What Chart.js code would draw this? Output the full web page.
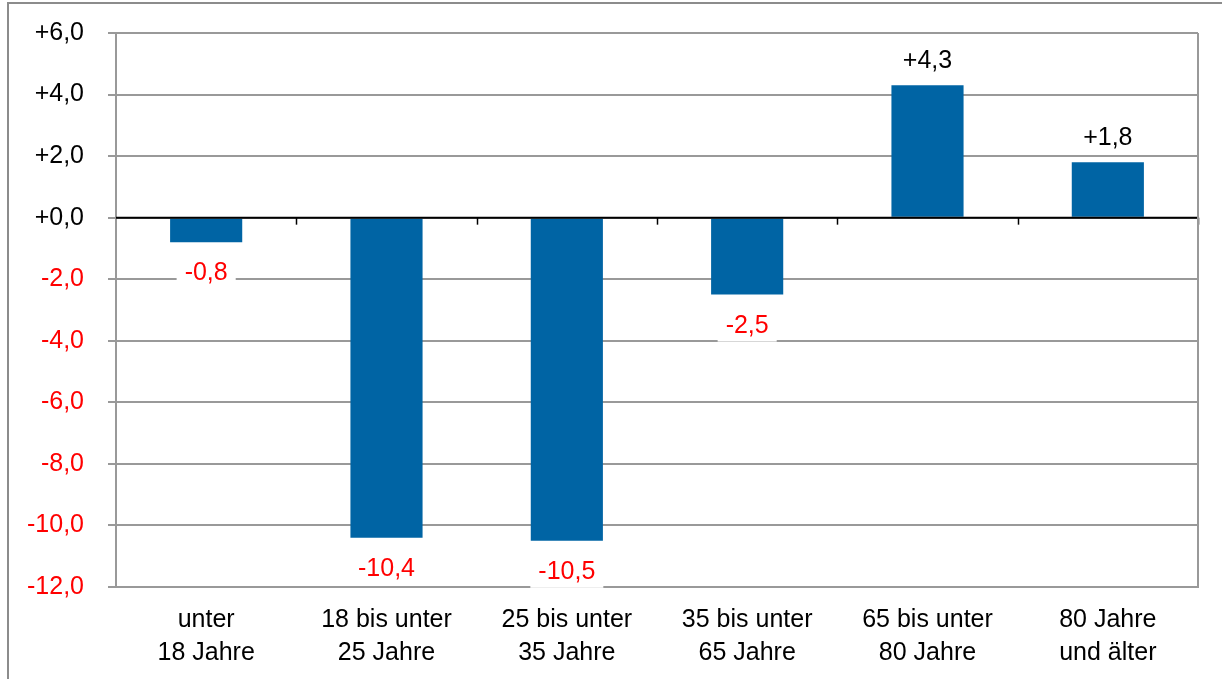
<!DOCTYPE html>
<html>
<head>
<meta charset="utf-8">
<script src="https://cdn.jsdelivr.net/npm/chart.js@4.4.1/dist/chart.umd.min.js"></script>
<style>
  html, body { margin: 0; padding: 0; background: #fff; }
  #wrap { position: relative; width: 1222px; height: 679px; overflow: hidden; }
  #frame { position: absolute; left: 7px; top: 2px; width: 1300px; height: 700px;
           border: 2px solid #8c8c8c; pointer-events: none; }
</style>
</head>
<body>
<div id="wrap">
  <canvas id="myChart" width="1222" height="679"></canvas>
  <div id="frame"></div>
</div>
<script>
// Altersgruppen
var categories = [
  ['unter', '18 Jahre'],
  ['18 bis unter', '25 Jahre'],
  ['25 bis unter', '35 Jahre'],
  ['35 bis unter', '65 Jahre'],
  ['65 bis unter', '80 Jahre'],
  ['80 Jahre', 'und älter']
];
// Veränderung in Prozent
var values = [-0.8, -10.4, -10.5, -2.5, 4.3, 1.8];
var yMin = -12, yMax = 6, yStep = 2;

var FONT = '"Liberation Sans", Arial, sans-serif';

function fmt(v) {
  var s = Math.abs(v).toFixed(1).replace('.', ',');
  return (v < 0 ? '-' : '+') + s;
}

// value labels with white box, plus zero line ticks and right border
var extras = {
  id: 'extras',
  afterDatasetsDraw: function (chart) {
    var ctx = chart.ctx;
    var area = chart.chartArea;
    var y = chart.scales.y;
    var y0 = y.getPixelForValue(0);

    ctx.save();
    // zero line
    ctx.strokeStyle = '#000';
    ctx.lineWidth = 2;
    ctx.beginPath();
    ctx.moveTo(area.left, y0);
    ctx.lineTo(area.right, y0);
    ctx.stroke();
    // small ticks under zero line at category borders
    ctx.lineWidth = 1.5;
    for (var i = 1; i <= categories.length; i++) {
      var bx = Math.round(area.left + (area.right - area.left) * i / categories.length) + 0.5;
      ctx.beginPath();
      ctx.moveTo(bx, y0);
      ctx.lineTo(bx, y0 + 7);
      ctx.stroke();
    }
    // right border of plot
    ctx.strokeStyle = '#999';
    ctx.lineWidth = 2;
    ctx.beginPath();
    ctx.moveTo(area.right, area.top);
    ctx.lineTo(area.right, area.bottom);
    ctx.stroke();

    // data labels
    ctx.font = '25px ' + FONT;
    ctx.textAlign = 'center';
    ctx.textBaseline = 'middle';
    var meta = chart.getDatasetMeta(0);
    meta.data.forEach(function (bar, i) {
      var v = values[i];
      var text = fmt(v);
      var cy = v < 0 ? bar.y + 30 : bar.y - 25;
      var w = ctx.measureText(text).width + 16;
      ctx.fillStyle = '#fff';
      ctx.fillRect(bar.x - w / 2, cy - 17, w, 34);
      ctx.fillStyle = v < 0 ? '#ff0000' : '#000';
      ctx.fillText(text, bar.x, cy + 1);
    });
    ctx.restore();
  }
};

var ctx = document.getElementById('myChart').getContext('2d');
var myChart = new Chart(ctx, {
  type: 'bar',
  data: {
    labels: categories,
    datasets: [{
      data: values,
      backgroundColor: '#0064a4',
      borderWidth: 0,
      barPercentage: 0.4,
      categoryPercentage: 1.0
    }]
  },
  options: {
    responsive: false,
    animation: false,
    layout: { padding: { top: 33, right: 24, left: 0, bottom: 0 } },
    plugins: { legend: { display: false }, tooltip: { enabled: false } },
    scales: {
      x: {
        grid: { display: false, drawTicks: false },
        border: { display: true, color: '#999', width: 2 },
        ticks: {
          color: '#000',
          font: { family: FONT, size: 25, lineHeight: 1.3 },
          padding: 17,
          maxRotation: 0
        },
        afterFit: function (scale) { scale.height = 92; }
      },
      y: {
        min: yMin,
        max: yMax,
        grid: {
          color: '#999',
          lineWidth: 2,
          tickLength: 8,
          drawTicks: true
        },
        border: { display: true, color: '#999', width: 2 },
        ticks: {
          stepSize: yStep,
          padding: 24,
          font: { family: FONT, size: 25 },
          color: function (c) { return c.tick.value < 0 ? '#ff0000' : '#000'; },
          callback: function (v) { return fmt(v); }
        },
        afterFit: function (scale) {
          scale.width = 116;
          scale.paddingTop = 0;
          scale.paddingBottom = 0;
        }
      }
    }
  },
  plugins: [extras]
});
</script>
</body>
</html>
